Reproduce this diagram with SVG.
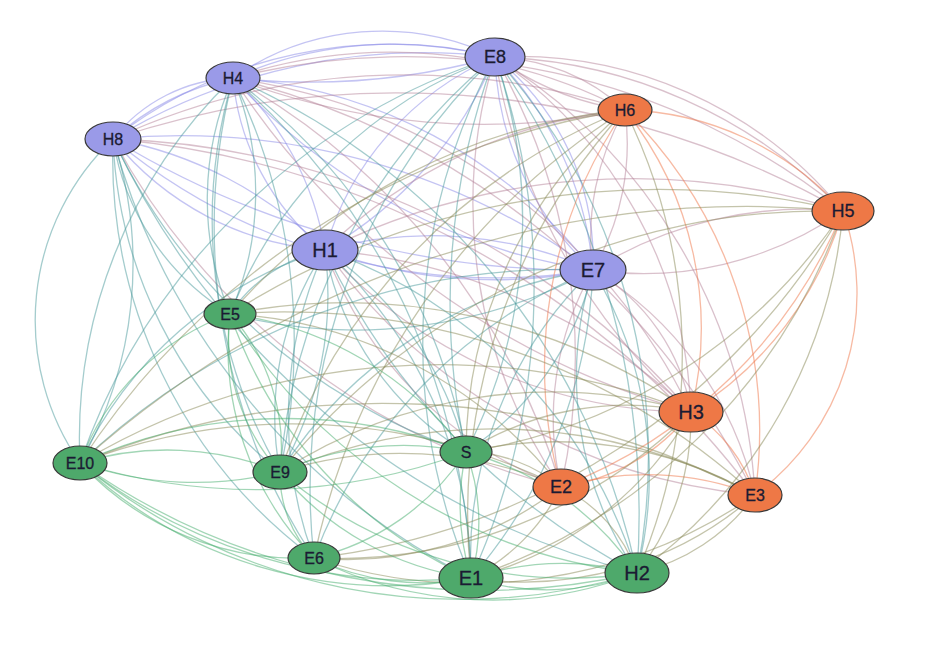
<svg xmlns="http://www.w3.org/2000/svg" width="930" height="652" viewBox="0 0 930 652">
<style>
#edges path{fill:none;stroke-width:1.3;stroke-opacity:.5}
.p{stroke:#8a8ae8}.m{stroke:#b5849a}.t{stroke:#4a9a9c}.o{stroke:#f07548}.l{stroke:#8a8a58}.g{stroke:#45ad6e}
.np{fill:#9a9ae8}.no{fill:#ee7846}.ng{fill:#4ea96b}
ellipse{stroke:#3a3a3a;stroke-width:1.2}
text{font-family:"Liberation Sans",Arial,sans-serif;fill:#1b1b33;text-anchor:middle;dominant-baseline:central;stroke:#1b1b33;stroke-width:.3}
.s{font-size:16px}.b{font-size:20px}
</style>
<rect width="930" height="652" fill="#fff"/>
<g id="edges">
<path class="p" d="M233 78A260 260 0 0 1 495 57"/>
<path class="p" d="M233 78A400 400 0 0 1 495 57"/>
<path class="p" d="M233 78A700 700 0 0 0 495 57"/>
<path class="p" d="M113 139A160 160 0 0 1 233 78"/>
<path class="p" d="M113 139A260 260 0 0 1 233 78"/>
<path class="p" d="M233 78A300 300 0 0 1 325 250"/>
<path class="p" d="M233 78A250 250 0 0 0 325 250"/>
<path class="p" d="M233 78A500 500 0 0 1 593 270"/>
<path class="p" d="M233 78A600 600 0 0 0 593 270"/>
<path class="p" d="M113 139A600 600 0 0 1 495 57"/>
<path class="p" d="M113 139A450 450 0 0 1 495 57"/>
<path class="p" d="M495 57A300 300 0 0 0 325 250"/>
<path class="p" d="M495 57A400 400 0 0 1 325 250"/>
<path class="p" d="M495 57A260 260 0 0 1 593 270"/>
<path class="p" d="M495 57A350 350 0 0 1 593 270"/>
<path class="p" d="M495 57A300 300 0 0 0 593 270"/>
<path class="p" d="M113 139A300 300 0 0 0 325 250"/>
<path class="p" d="M113 139A400 400 0 0 1 325 250"/>
<path class="p" d="M113 139A600 600 0 0 0 593 270"/>
<path class="p" d="M113 139A900 900 0 0 0 593 270"/>
<path class="p" d="M113 139A700 700 0 0 1 593 270"/>
<path class="p" d="M325 250A400 400 0 0 1 593 270"/>
<path class="p" d="M325 250A500 500 0 0 0 593 270"/>
<path class="m" d="M233 78A500 500 0 0 1 625 110"/>
<path class="m" d="M233 78A700 700 0 0 0 625 110"/>
<path class="m" d="M233 78A700 700 0 0 1 843 211"/>
<path class="m" d="M233 78A600 600 0 0 1 691 412"/>
<path class="m" d="M233 78A800 800 0 0 0 691 412"/>
<path class="m" d="M233 78A700 700 0 0 1 561 487"/>
<path class="m" d="M233 78A800 800 0 0 1 755 495"/>
<path class="m" d="M495 57A200 200 0 0 1 625 110"/>
<path class="m" d="M495 57A300 300 0 0 0 625 110"/>
<path class="m" d="M495 57A420 420 0 0 1 843 211"/>
<path class="m" d="M495 57A500 500 0 0 1 843 211"/>
<path class="m" d="M495 57A450 450 0 0 1 691 412"/>
<path class="m" d="M495 57A600 600 0 0 0 691 412"/>
<path class="m" d="M495 57A600 600 0 0 1 561 487"/>
<path class="m" d="M495 57A500 500 0 0 0 561 487"/>
<path class="m" d="M495 57A550 550 0 0 1 755 495"/>
<path class="m" d="M113 139A700 700 0 0 1 625 110"/>
<path class="m" d="M113 139A900 900 0 0 1 843 211"/>
<path class="m" d="M113 139A800 800 0 0 1 691 412"/>
<path class="m" d="M113 139A700 700 0 0 0 561 487"/>
<path class="m" d="M113 139A900 900 0 0 1 755 495"/>
<path class="m" d="M325 250A500 500 0 0 1 625 110"/>
<path class="m" d="M325 250A700 700 0 0 1 843 211"/>
<path class="m" d="M325 250A500 500 0 0 0 691 412"/>
<path class="m" d="M325 250A600 600 0 0 1 691 412"/>
<path class="m" d="M325 250A400 400 0 0 0 561 487"/>
<path class="m" d="M325 250A600 600 0 0 0 755 495"/>
<path class="m" d="M625 110A250 250 0 0 1 593 270"/>
<path class="m" d="M625 110A250 250 0 0 0 593 270"/>
<path class="m" d="M593 270A400 400 0 0 1 843 211"/>
<path class="m" d="M593 270A350 350 0 0 0 843 211"/>
<path class="m" d="M593 270A200 200 0 0 1 691 412"/>
<path class="m" d="M593 270A300 300 0 0 0 561 487"/>
<path class="m" d="M593 270A350 350 0 0 1 755 495"/>
<path class="t" d="M233 78A300 300 0 0 0 230 314"/>
<path class="t" d="M233 78A300 300 0 0 1 230 314"/>
<path class="t" d="M233 78A600 600 0 0 1 466 452"/>
<path class="t" d="M233 78A500 500 0 0 0 80 463"/>
<path class="t" d="M233 78A500 500 0 0 0 280 472"/>
<path class="t" d="M233 78A600 600 0 0 1 280 472"/>
<path class="t" d="M233 78A600 600 0 0 0 314 558"/>
<path class="t" d="M233 78A700 700 0 0 1 471 578"/>
<path class="t" d="M233 78A700 700 0 0 1 637 573"/>
<path class="t" d="M495 57A450 450 0 0 0 230 314"/>
<path class="t" d="M495 57A700 700 0 0 0 466 452"/>
<path class="t" d="M495 57A500 500 0 0 1 466 452"/>
<path class="t" d="M495 57A650 650 0 0 0 80 463"/>
<path class="t" d="M495 57A600 600 0 0 0 280 472"/>
<path class="t" d="M495 57A600 600 0 0 0 314 558"/>
<path class="t" d="M495 57A700 700 0 0 1 471 578"/>
<path class="t" d="M495 57A600 600 0 0 0 471 578"/>
<path class="t" d="M495 57A600 600 0 0 1 637 573"/>
<path class="t" d="M495 57A800 800 0 0 1 637 573"/>
<path class="t" d="M113 139A250 250 0 0 0 230 314"/>
<path class="t" d="M113 139A600 600 0 0 0 466 452"/>
<path class="t" d="M113 139A250 250 0 0 0 80 463"/>
<path class="t" d="M113 139A400 400 0 0 1 80 463"/>
<path class="t" d="M113 139A450 450 0 0 0 280 472"/>
<path class="t" d="M113 139A500 500 0 0 0 314 558"/>
<path class="t" d="M113 139A700 700 0 0 0 471 578"/>
<path class="t" d="M113 139A800 800 0 0 0 637 573"/>
<path class="t" d="M325 250A150 150 0 0 0 230 314"/>
<path class="t" d="M325 250A300 300 0 0 0 466 452"/>
<path class="t" d="M325 250A350 350 0 0 1 466 452"/>
<path class="t" d="M325 250A400 400 0 0 0 80 463"/>
<path class="t" d="M325 250A300 300 0 0 0 280 472"/>
<path class="t" d="M325 250A350 350 0 0 1 280 472"/>
<path class="t" d="M325 250A400 400 0 0 0 314 558"/>
<path class="t" d="M325 250A450 450 0 0 1 471 578"/>
<path class="t" d="M325 250A500 500 0 0 1 637 573"/>
<path class="t" d="M325 250A700 700 0 0 0 637 573"/>
<path class="t" d="M593 270A500 500 0 0 1 230 314"/>
<path class="t" d="M593 270A300 300 0 0 1 466 452"/>
<path class="t" d="M593 270A700 700 0 0 0 80 463"/>
<path class="t" d="M593 270A450 450 0 0 0 280 472"/>
<path class="t" d="M593 270A500 500 0 0 0 314 558"/>
<path class="t" d="M593 270A400 400 0 0 0 471 578"/>
<path class="t" d="M593 270A500 500 0 0 1 471 578"/>
<path class="t" d="M593 270A400 400 0 0 1 637 573"/>
<path class="t" d="M593 270A350 350 0 0 0 637 573"/>
<path class="o" d="M625 110A300 300 0 0 1 843 211"/>
<path class="o" d="M625 110A350 350 0 0 1 691 412"/>
<path class="o" d="M625 110A450 450 0 0 0 561 487"/>
<path class="o" d="M625 110A450 450 0 0 1 755 495"/>
<path class="o" d="M843 211A350 350 0 0 1 691 412"/>
<path class="o" d="M843 211A500 500 0 0 1 561 487"/>
<path class="o" d="M843 211A250 250 0 0 1 755 495"/>
<path class="o" d="M691 412A200 200 0 0 1 561 487"/>
<path class="o" d="M691 412A150 150 0 0 1 755 495"/>
<path class="o" d="M561 487A300 300 0 0 1 755 495"/>
<path class="l" d="M625 110A600 600 0 0 0 230 314"/>
<path class="l" d="M625 110A450 450 0 0 0 466 452"/>
<path class="l" d="M625 110A800 800 0 0 0 80 463"/>
<path class="l" d="M625 110A600 600 0 0 0 280 472"/>
<path class="l" d="M625 110A700 700 0 0 0 314 558"/>
<path class="l" d="M625 110A600 600 0 0 0 471 578"/>
<path class="l" d="M625 110A550 550 0 0 1 637 573"/>
<path class="l" d="M843 211A800 800 0 0 0 230 314"/>
<path class="l" d="M843 211A550 550 0 0 1 466 452"/>
<path class="l" d="M843 211A1000 1000 0 0 0 80 463"/>
<path class="l" d="M843 211A700 700 0 0 0 280 472"/>
<path class="l" d="M843 211A700 700 0 0 1 314 558"/>
<path class="l" d="M843 211A600 600 0 0 1 471 578"/>
<path class="l" d="M843 211A500 500 0 0 1 637 573"/>
<path class="l" d="M691 412A600 600 0 0 0 230 314"/>
<path class="l" d="M691 412A300 300 0 0 0 466 452"/>
<path class="l" d="M691 412A700 700 0 0 0 80 463"/>
<path class="l" d="M691 412A500 500 0 0 0 280 472"/>
<path class="l" d="M691 412A500 500 0 0 1 314 558"/>
<path class="l" d="M691 412A350 350 0 0 1 471 578"/>
<path class="l" d="M691 412A250 250 0 0 1 637 573"/>
<path class="l" d="M561 487A450 450 0 0 0 230 314"/>
<path class="l" d="M561 487A150 150 0 0 0 466 452"/>
<path class="l" d="M561 487A600 600 0 0 0 80 463"/>
<path class="l" d="M561 487A400 400 0 0 0 280 472"/>
<path class="l" d="M561 487A350 350 0 0 1 314 558"/>
<path class="l" d="M561 487A200 200 0 0 1 471 578"/>
<path class="l" d="M561 487A150 150 0 0 1 637 573"/>
<path class="l" d="M755 495A700 700 0 0 0 230 314"/>
<path class="l" d="M755 495A400 400 0 0 0 466 452"/>
<path class="l" d="M755 495A800 800 0 0 0 80 463"/>
<path class="l" d="M755 495A550 550 0 0 0 280 472"/>
<path class="l" d="M755 495A500 500 0 0 1 314 558"/>
<path class="l" d="M755 495A350 350 0 0 1 471 578"/>
<path class="l" d="M755 495A200 200 0 0 1 637 573"/>
<path class="g" d="M230 314A350 350 0 0 1 466 452"/>
<path class="g" d="M230 314A250 250 0 0 0 80 463"/>
<path class="g" d="M230 314A200 200 0 0 0 280 472"/>
<path class="g" d="M230 314A200 200 0 0 1 280 472"/>
<path class="g" d="M230 314A300 300 0 0 0 314 558"/>
<path class="g" d="M230 314A450 450 0 0 0 471 578"/>
<path class="g" d="M230 314A550 550 0 0 0 637 573"/>
<path class="g" d="M466 452A500 500 0 0 0 80 463"/>
<path class="g" d="M466 452A600 600 0 0 1 80 463"/>
<path class="g" d="M466 452A300 300 0 0 0 280 472"/>
<path class="g" d="M466 452A250 250 0 0 1 314 558"/>
<path class="g" d="M466 452A200 200 0 0 1 471 578"/>
<path class="g" d="M466 452A250 250 0 0 0 471 578"/>
<path class="g" d="M466 452A300 300 0 0 1 637 573"/>
<path class="g" d="M80 463A300 300 0 0 1 280 472"/>
<path class="g" d="M80 463A350 350 0 0 0 280 472"/>
<path class="g" d="M80 463A300 300 0 0 0 314 558"/>
<path class="g" d="M80 463A450 450 0 0 0 471 578"/>
<path class="g" d="M80 463A550 550 0 0 0 471 578"/>
<path class="g" d="M80 463A600 600 0 0 0 637 573"/>
<path class="g" d="M80 463A700 700 0 0 0 637 573"/>
<path class="g" d="M280 472A120 120 0 0 0 314 558"/>
<path class="g" d="M280 472A300 300 0 0 0 471 578"/>
<path class="g" d="M280 472A450 450 0 0 0 637 573"/>
<path class="g" d="M314 558A250 250 0 0 0 471 578"/>
<path class="g" d="M314 558A400 400 0 0 0 637 573"/>
<path class="g" d="M471 578A250 250 0 0 0 637 573"/>
<path class="g" d="M471 578A300 300 0 0 1 637 573"/>
</g>
<g id="H4"><ellipse class="np" cx="233" cy="78" rx="27" ry="16"/><text class="s" x="233" y="78">H4</text></g>
<g id="E8"><ellipse class="np" cx="495" cy="57" rx="30" ry="19"/><text class="s" x="495" y="57" style="font-size:18px">E8</text></g>
<g id="H6"><ellipse class="no" cx="625" cy="110" rx="27" ry="16"/><text class="s" x="625" y="110">H6</text></g>
<g id="H8"><ellipse class="np" cx="113" cy="139" rx="28" ry="17"/><text class="s" x="113" y="139">H8</text></g>
<g id="H5"><ellipse class="no" cx="843" cy="211" rx="31" ry="19"/><text class="s" x="843" y="211" style="font-size:18px">H5</text></g>
<g id="H1"><ellipse class="np" cx="325" cy="250" rx="33" ry="20"/><text class="b" x="325" y="250">H1</text></g>
<g id="E7"><ellipse class="np" cx="593" cy="270" rx="33" ry="20"/><text class="b" x="593" y="270">E7</text></g>
<g id="E5"><ellipse class="ng" cx="230" cy="314" rx="26" ry="15"/><text class="s" x="230" y="314">E5</text></g>
<g id="H3"><ellipse class="no" cx="691" cy="412" rx="32" ry="20"/><text class="b" x="691" y="412">H3</text></g>
<g id="S"><ellipse class="ng" cx="466" cy="452" rx="26" ry="16"/><text class="s" x="466" y="452">S</text></g>
<g id="E10"><ellipse class="ng" cx="80" cy="463" rx="27" ry="17"/><text class="s" x="80" y="463">E10</text></g>
<g id="E9"><ellipse class="ng" cx="280" cy="472" rx="27" ry="17"/><text class="s" x="280" y="472">E9</text></g>
<g id="E2"><ellipse class="no" cx="561" cy="487" rx="28" ry="18"/><text class="s" x="561" y="487" style="font-size:18px">E2</text></g>
<g id="E3"><ellipse class="no" cx="755" cy="495" rx="27" ry="17"/><text class="s" x="755" y="495">E3</text></g>
<g id="E6"><ellipse class="ng" cx="314" cy="558" rx="26" ry="16"/><text class="s" x="314" y="558">E6</text></g>
<g id="E1"><ellipse class="ng" cx="471" cy="578" rx="32" ry="20"/><text class="b" x="471" y="578">E1</text></g>
<g id="H2"><ellipse class="ng" cx="637" cy="573" rx="32" ry="20"/><text class="b" x="637" y="573">H2</text></g>
</svg>
